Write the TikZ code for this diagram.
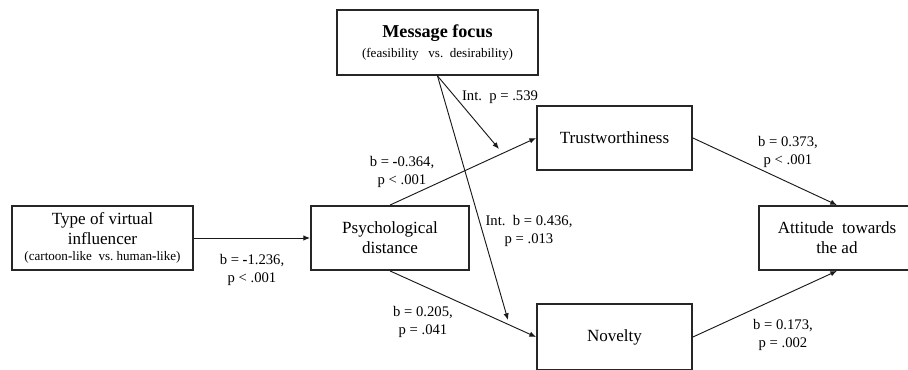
\documentclass[tikz,border=0pt]{standalone}
\usepackage{fontspec}
\setmainfont{Liberation Serif}
\usetikzlibrary{arrows.meta,positioning}
\newcommand{\boxfont}{\fontsize{12.8}{15}\selectfont}
\newcommand{\labfont}{\fontsize{11}{13.5}\selectfont}
\newcommand{\subfont}{\fontsize{9.8}{12}\selectfont}
\newcommand{\hy}{{\bfseries -}}

\begin{document}
\begin{tikzpicture}[x=.75pt,y=.75pt,>={Latex[length=5pt,width=4pt]},
 var/.style={draw=black!85,line width=1.4pt,minimum height=48pt,align=center,font=\boxfont,inner sep=2pt},
 lab/.style={align=center,font=\labfont,inner sep=1pt},
 link/.style={->,line width=.7pt,black!90}]
 \useasboundingbox (0,0) rectangle (908,369);
 \node[var,minimum width=135.75pt] (type) at (102.5,131)
   {Type of virtual\\influencer\\[-3pt]{\subfont (cartoon\hy like\ \ vs.\ human\hy like)}};
 \node[var,minimum width=118.5pt] (psych) at (390,131) {Psychological\\distance};
 \node[var,minimum width=150.75pt,minimum height=48.75pt] (msg) at (437.5,326.5)
   {{\fontsize{13.6}{15}\selectfont\bfseries Message focus}\\{\subfont (feasibility\ \ \ vs.\ \ desirability)}};
 \node[var,minimum width=116.25pt] (trust) at (614.5,231) {Trustworthiness};
 \node[var,minimum width=116.25pt,minimum height=49.5pt] (nov) at (614.5,32) {Novelty};
 \node[var,minimum width=117pt] (att) at (837,131) {Attitude\ \ towards\\the ad};
 \coordinate (modT) at (499,220);
 \coordinate (modN) at (508,49);
 \foreach \a/\b in {type.east/psych.west,psych.north/trust.west,psych.south/nov.west,
   trust.east/att.north,nov.east/att.south,msg.south/modT,msg.south/modN}{
  \draw[link] (\a) -- (\b);
 }
 \node[lab] (bTP) at (252,99) {b = \hy1.236,\\p < .001};
 \node[lab] (bPT) at (402,197) {b = \hy0.364,\\p < .001};
 \node[lab] (bPN) at (423,47) {b = 0.205,\\p = .041};
 \node[lab] (intT) at (500,272) {Int.\ \ p = .539};
 \node[lab] (intN) at (529,138) {Int.\ \ b = 0.436,\\p = .013};
 \node[lab] (bTA) at (788,217) {b = 0.373,\\p < .001};
 \node[lab] (bNA) at (783,34) {b = 0.173,\\p = .002};
\end{tikzpicture}
\end{document}
